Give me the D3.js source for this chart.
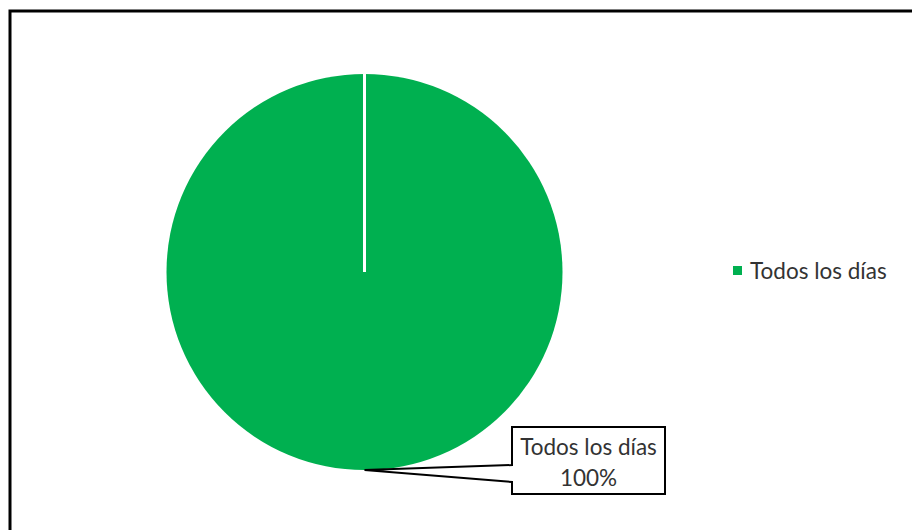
<!DOCTYPE html>
<html><head><meta charset="utf-8">
<script src="https://cdn.jsdelivr.net/npm/d3@7"></script>
<style>body{margin:0;background:#fff}svg{display:block}</style>
</head><body>
<svg id="c" width="912" height="530"></svg>
<script>
const categories = ["Todos los días"];
const values = [100];
const colors = ["#00B050"];

const svg = d3.select("#c");
const font = "Lato, 'Open Sans', sans-serif";
const fs = 22.5;

// chart frame
svg.append("rect").attr("x", 10).attr("y", 11).attr("width", 920).attr("height", 540)
  .attr("fill", "#fff").attr("stroke", "#000").attr("stroke-width", 3);

const cx = 364.5, cy = 272, r = 198;
const pie = d3.pie().sort(null).value(d => d)(values);
const arc = d3.arc().innerRadius(0).outerRadius(r);
const g = svg.append("g").attr("transform", `translate(${cx},${cy})`);
g.selectAll("path").data(pie).join("path")
  .attr("d", arc).attr("fill", (d, i) => colors[i]);
g.selectAll("line.sep").data(pie).join("line").attr("class", "sep")
  .attr("x1", 0).attr("y1", 0)
  .attr("x2", d => r * Math.sin(d.startAngle)).attr("y2", d => -r * Math.cos(d.startAngle))
  .attr("stroke", "#fff").attr("stroke-width", 3);

// callout label
const tipA = pie[0].startAngle + (pie[0].endAngle - pie[0].startAngle) / 2;
const tip = [cx + r * Math.sin(tipA), cy - r * Math.cos(tipA)];
const bx0 = 512, by0 = 427, bx1 = 665, by1 = 494;
const path = d3.path();
path.moveTo(bx0, by0); path.lineTo(bx1, by0); path.lineTo(bx1, by1); path.lineTo(bx0, by1);
path.lineTo(bx0, 482); path.lineTo(tip[0], tip[1]); path.lineTo(bx0, 465); path.closePath();
svg.append("path").attr("d", path.toString()).attr("fill", "#fff").attr("stroke", "#000").attr("stroke-width", 2);
svg.append("text").attr("x", (bx0 + bx1) / 2).attr("y", 455).attr("text-anchor", "middle")
  .attr("font-family", font).attr("font-size", fs).attr("fill", "#333").text(categories[0]);
svg.append("text").attr("x", (bx0 + bx1) / 2).attr("y", 486).attr("text-anchor", "middle")
  .attr("font-family", font).attr("font-size", fs).attr("fill", "#333").text(d3.format(".0%")(values[0] / d3.sum(values)));

// legend
const lg = svg.append("g").attr("transform", "translate(733,266)");
lg.selectAll("rect").data(categories).join("rect")
  .attr("x", 0).attr("y", (d, i) => i * 26).attr("width", 9).attr("height", 9).attr("fill", (d, i) => colors[i]);
lg.selectAll("text").data(categories).join("text")
  .attr("x", 17).attr("y", (d, i) => i * 26 + 13).attr("font-family", font).attr("font-size", fs)
  .attr("fill", "#333").text(d => d);
</script>
</body></html>
